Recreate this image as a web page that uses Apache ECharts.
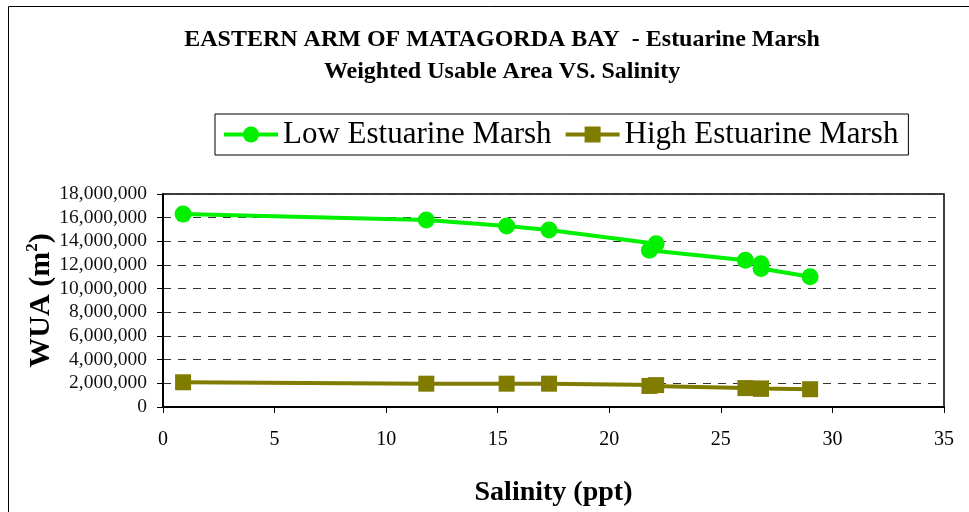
<!DOCTYPE html>
<html>
<head>
<meta charset="utf-8">
<script src="https://cdn.jsdelivr.net/npm/echarts@6/dist/echarts.min.js"></script>
<style>html,body{margin:0;padding:0;background:#fff}#c{width:969px;height:512px}</style>
</head>
<body>
<div id="c"></div>
<script>
var titleLines = ['EASTERN ARM OF MATAGORDA BAY  - Estuarine Marsh', 'Weighted Usable Area VS. Salinity'];
var seriesNames = ['Low Estuarine Marsh', 'High Estuarine Marsh'];
var lowX  = [0.9, 11.8, 15.4, 17.3, 22.1, 21.8, 26.1, 26.8, 26.8, 29.0];
var lowY  = [16300000, 15800000, 15300000, 14950000, 13800000, 13250000, 12400000, 12100000, 11700000, 11000000];
var highX = [0.9, 11.8, 15.4, 17.3, 22.1, 21.8, 26.1, 26.8, 26.8, 29.0];
var highY = [2090000, 1970000, 1970000, 1970000, 1850000, 1780000, 1600000, 1560000, 1540000, 1500000];
var xTicks = {min: 0, max: 35, interval: 5};
var yTicks = {min: 0, max: 18000000, interval: 2000000};

function pairs(xs, ys) { return xs.map(function (x, i) { return [x, ys[i]]; }); }
var F = '"Liberation Serif", "Times New Roman", serif';

var chart = echarts.init(document.getElementById('c'), null, {renderer: 'canvas'});
chart.setOption({
  animation: false,
  backgroundColor: '#fff',
  graphic: [{
    type: 'rect', shape: {x: 8.5, y: 6.5, width: 1200, height: 800},
    style: {fill: 'none', stroke: '#000', lineWidth: 1}, silent: true, z: -1
  }],
  title: {
    text: titleLines.join('\n'),
    left: 497, top: 19, textAlign: 'center',
    textStyle: {fontFamily: F, fontWeight: 'bold', fontSize: 24, lineHeight: 32, color: '#000'}
  },
  legend: {
    left: 215, top: 114,
    padding: [5, 10, 5, 7],
    borderColor: '#000', borderWidth: 1,
    itemWidth: 54, itemHeight: 20, itemGap: 12,
    lineStyle: {width: 4},
    textStyle: {fontFamily: F, fontSize: 31, color: '#000'},
    data: seriesNames
  },
  grid: {
    left: 163, right: 25, top: 194, bottom: 105,
    show: true, borderColor: '#000', borderWidth: 1.5, backgroundColor: 'transparent'
  },
  xAxis: {
    type: 'value', min: xTicks.min, max: xTicks.max, interval: xTicks.interval,
    name: 'Salinity (ppt)', nameLocation: 'middle', nameGap: 72, nameMoveOverlap: false,
    nameTextStyle: {fontFamily: F, fontWeight: 'bold', fontSize: 28, color: '#000'},
    axisLine: {show: true, lineStyle: {color: '#000', width: 2}},
    axisTick: {show: true, length: 6, lineStyle: {color: '#000', width: 1}},
    axisLabel: {fontFamily: F, fontSize: 20, color: '#000', margin: 23},
    splitLine: {show: false}
  },
  yAxis: {
    type: 'value', min: yTicks.min, max: yTicks.max, interval: yTicks.interval,
    name: '{b|WUA (m}{s|2}{b|)}', nameLocation: 'middle', nameGap: 105, nameMoveOverlap: false,
    nameTextStyle: {
      fontFamily: F, fontWeight: 'bold', fontSize: 30, color: '#000',
      rich: {
        b: {fontFamily: F, fontWeight: 'bold', fontSize: 30, color: '#000', lineHeight: 34},
        s: {fontFamily: F, fontWeight: 'bold', fontSize: 17, color: '#000', verticalAlign: 'top', lineHeight: 34}
      }
    },
    axisLine: {show: true, lineStyle: {color: '#000', width: 2}},
    axisTick: {show: true, length: 6, lineStyle: {color: '#000', width: 1}},
    axisLabel: {
      fontFamily: F, fontSize: 19.5, color: '#111', margin: 16,
      formatter: function (v) { return v.toLocaleString('en-US'); }
    },
    splitLine: {show: true, lineStyle: {color: '#333', width: 1, type: [8, 7]}}
  },
  series: [{
    name: seriesNames[0], type: 'line', data: pairs(lowX, lowY),
    symbol: 'circle', symbolSize: 17,
    itemStyle: {color: '#00f000'},
    lineStyle: {color: '#00f000', width: 4}
  }, {
    name: seriesNames[1], type: 'line', data: pairs(highX, highY),
    symbol: 'rect', symbolSize: 16,
    itemStyle: {color: '#807c00'},
    lineStyle: {color: '#807c00', width: 4}
  }]
});
</script>
</body>
</html>
